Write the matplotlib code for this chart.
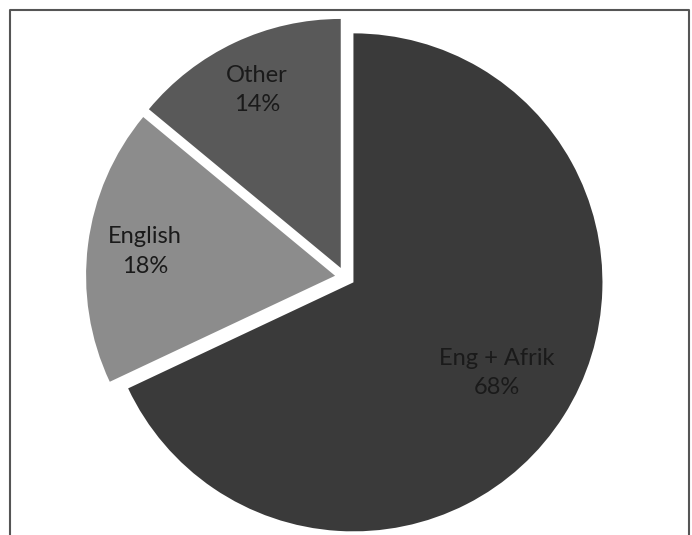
import numpy as np
import matplotlib.pyplot as plt

labels = ["Eng + Afrik", "English", "Other"]
shares = [68, 18, 14]
colors = ["#3a3a3a", "#8c8c8c", "#595959"]
label_dist = [0.68, 0.77, 0.79]  # fraction of radius, like excel "best fit"

fig = plt.figure(figsize=(6.92, 5.35), dpi=100)
ax = fig.add_axes([0, 0, 1, 1])
ax.set_xlim(0, 692)
ax.set_ylim(0, 535)
ax.set_aspect("equal")
ax.axis("off")

R = 249
cx, cy = 345, 258
# explode is in data units here (pixels)
wedges, _ = ax.pie(shares, colors=colors, startangle=90, counterclock=False,
                   radius=R, center=(cx, cy), explode=[10] * 3,
                   wedgeprops=dict(linewidth=0), frame=False)
ax.set_xlim(0, 692)
ax.set_ylim(0, 535)

for w, lab, s, d in zip(wedges, labels, shares, label_dist):
    mid = np.radians((w.theta1 + w.theta2) / 2)
    x = w.center[0] + d * R * np.cos(mid)
    y = w.center[1] + d * R * np.sin(mid)
    ax.text(x, y, f"{lab}\n{s}%", ha="center", va="center", fontsize=17,
            family="Lato", color="#1a1a1a", linespacing=1.5)

# outer frame (no bottom edge visible)
ax.plot([10, 10, 689, 689], [0, 525, 525, 0], color="#555555", lw=1.5,
        clip_on=False)

fig.savefig("out.png", dpi=100)
